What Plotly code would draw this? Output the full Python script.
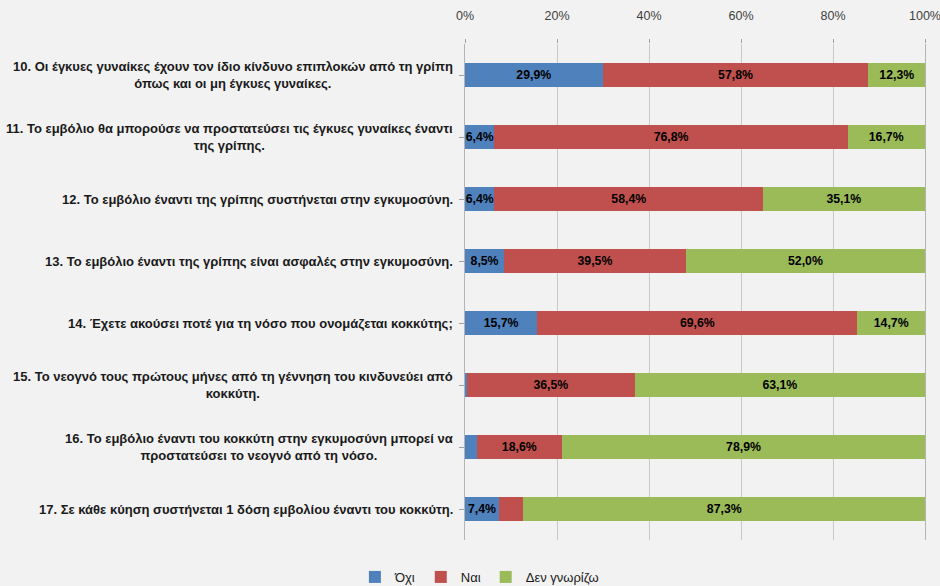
import plotly.graph_objects as go

categories = [
    "10. Οι έγκυες γυναίκες έχουν τον ίδιο κίνδυνο επιπλοκών από τη γρίπη<br>όπως και οι μη έγκυες γυναίκες.",
    "11. Το εμβόλιο θα μπορούσε να προστατεύσει τις έγκυες γυναίκες έναντι<br>της γρίπης.",
    "12. Το εμβόλιο έναντι της γρίπης συστήνεται στην εγκυμοσύνη.",
    "13. Το εμβόλιο έναντι της γρίπης είναι ασφαλές στην εγκυμοσύνη.",
    "14. Έχετε ακούσει ποτέ για τη νόσο που ονομάζεται κοκκύτης;",
    "15. Το νεογνό τους πρώτους μήνες από τη γέννηση του κινδυνεύει από<br>κοκκύτη.",
    "16. Το εμβόλιο έναντι του κοκκύτη στην εγκυμοσύνη μπορεί να<br>προστατεύσει το νεογνό από τη νόσο.",
    "17. Σε κάθε κύηση συστήνεται 1 δόση εμβολίου έναντι του κοκκύτη.",
]
ochi = [29.9, 6.4, 6.4, 8.5, 15.7, 0.4, 2.5, 7.4]
nai = [57.8, 76.8, 58.4, 39.5, 69.6, 36.5, 18.6, 5.3]
den = [12.3, 16.7, 35.1, 52.0, 14.7, 63.1, 78.9, 87.3]
series_names = ["Όχι", "Ναι", "Δεν γνωρίζω"]
colors = ["#4F81BD", "#C0504D", "#9BBB59"]
tick_vals = [0, 20, 40, 60, 80, 100]
tick_text = ["0%", "20%", "40%", "60%", "80%", "100%"]
title_text = "ΤΜΗΜΑ Α΄ - ΓΝΩΣΕΙΣ"

FONT = "Liberation Sans, Arial, sans-serif"
ids = list(range(len(categories)))


def lab(v):
    return (f"{v:.1f}".replace(".", ",") + "%") if v >= 6 else ""


fig = go.Figure()
for name, vals, col in zip(series_names, [ochi, nai, den], colors):
    fig.add_trace(go.Bar(
        y=ids, x=vals, name=name, orientation="h",
        marker=dict(color=col, line=dict(width=0)),
        text=[lab(v) for v in vals], textposition="inside",
        insidetextanchor="middle",
        textfont=dict(family=FONT, size=13.5, color="#000000", weight="bold"),
        cliponaxis=False,
    ))

for i, c in enumerate(categories):
    fig.add_annotation(
        x=-0.022, xref="paper", y=i, yref="y", text=c, showarrow=False,
        xanchor="right", yanchor="middle", align="center",
        font=dict(family=FONT, size=13, color="#1a1a1a", weight="bold"),
    )

fig.add_annotation(
    x=-0.8804, xref="paper", xanchor="left", y=1.0887, yref="paper",
    yanchor="bottom", yshift=-5, text=title_text, showarrow=False,
    font=dict(family=FONT, size=29, color="#000000", weight="bold"),
)

fig.update_layout(
    barmode="stack", bargap=0.613,
    width=940, height=586,
    margin=dict(l=465, r=15, t=44, b=46, autoexpand=False),
    paper_bgcolor="#F2F2F2", plot_bgcolor="#F2F2F2",
    uniformtext=dict(mode="show", minsize=11),
    showlegend=True,
    legend=dict(orientation="h", xref="container", x=0.51, xanchor="center",
                yref="container", y=0.0154, yanchor="middle",
                font=dict(family=FONT, size=13, color="#1a1a1a"),
                traceorder="normal"),
    xaxis=dict(side="top", range=[0, 100], tickvals=tick_vals, ticktext=tick_text,
               showgrid=True, gridcolor="#C8C8C8", gridwidth=1,
               ticks="outside", ticklen=4, tickcolor="#A0A0A0",
               ticklabelstandoff=14, ticklabeloverflow="allow",
               showline=False, zeroline=False,
               tickfont=dict(family=FONT, size=12.5, color="#404040")),
    yaxis=dict(range=[7.5, -0.5], autorange=False, tickvals=ids, showticklabels=False,
               ticks="outside", ticklen=5, tickcolor="#A0A0A0", tickson="boundaries",
               showline=True, mirror=True, linecolor="#B4B4B4",
               showgrid=False, zeroline=False),
)

fig.write_html("out.html", config={"displayModeBar": False},
               post_script="document.body.style.margin='0';document.body.style.background='#F2F2F2';")
